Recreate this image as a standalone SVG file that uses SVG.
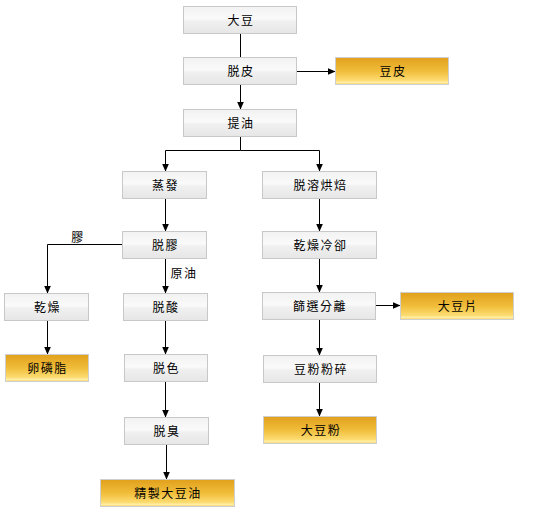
<svg xmlns="http://www.w3.org/2000/svg" width="539" height="523" viewBox="0 0 539 523">
<defs>
<linearGradient id="gGray" x1="0" y1="0" x2="0" y2="1">
<stop offset="0" stop-color="#f2f2f2"/>
<stop offset="0.45" stop-color="#fafafa"/>
<stop offset="0.55" stop-color="#f0f0f0"/>
<stop offset="1" stop-color="#e6e6e6"/>
</linearGradient>
<linearGradient id="gGold" x1="0" y1="0" x2="0" y2="1">
<stop offset="0" stop-color="#e1a01c"/>
<stop offset="0.5" stop-color="#f0bd3a"/>
<stop offset="0.85" stop-color="#fddc72"/>
<stop offset="0.92" stop-color="#fff0a8"/>
<stop offset="1" stop-color="#f6d060"/>
</linearGradient>
<marker id="arr" markerUnits="userSpaceOnUse" markerWidth="9" markerHeight="9" refX="8" refY="4" orient="auto">
<path d="M0,0.5 L8,4 L0,7.5 z" fill="#000"/>
</marker>
</defs>
<style>
.box{fill:url(#gGray);stroke:#c8c8c8;stroke-width:1}
.gold{fill:url(#gGold);stroke:#cfcfcf;stroke-width:1}
text{font-family:"Noto Sans CJK TC","Noto Sans CJK SC",sans-serif;font-size:12px;fill:#000;text-anchor:middle;letter-spacing:1.5px}
.c{fill:none;stroke:#000;stroke-width:1}
.a{marker-end:url(#arr)}
</style>
<g id="connectors">
<path class="c" d="M240.5 33.5 V57.5"/>
<path class="c a" d="M296.5 71.5 H335.5"/>
<path class="c a" d="M240.5 84.5 V109.5"/>
<path class="c a" d="M240.5 136.5 V150.5 H165.5 V171.5"/>
<path class="c a" d="M240.5 150.5 H319.5 V171.5"/>
<path class="c a" d="M165.5 198.5 V231.5"/>
<path class="c a" d="M122.5 244.5 H47.5 V293.5"/>
<path class="c a" d="M165.5 258.5 V293.5"/>
<path class="c a" d="M47.5 320.5 V354.5"/>
<path class="c a" d="M165.5 320.5 V354.5"/>
<path class="c a" d="M165.5 381.5 V417.5"/>
<path class="c a" d="M166.5 444.5 V479.5"/>
<path class="c a" d="M319.5 198.5 V231.5"/>
<path class="c a" d="M319.5 258.5 V292.5"/>
<path class="c a" d="M375.5 305.5 H400.5"/>
<path class="c a" d="M319.5 319.5 V355.5"/>
<path class="c a" d="M319.5 382.5 V416.5"/>
<text x="78" y="242">膠</text>
<text x="184" y="278">原油</text>
</g>
<g id="n1"><rect class="box" x="183.5" y="6.5" width="113" height="27"/><text x="241" y="24.5">大豆</text></g>
<g id="n2"><rect class="box" x="183.5" y="57.5" width="113" height="27"/><text x="241" y="75.5">脱皮</text></g>
<g id="n3"><rect class="gold" x="335.5" y="57.5" width="113" height="27"/><text x="393" y="75.5">豆皮</text></g>
<g id="n4"><rect class="box" x="183.5" y="109.5" width="113" height="27"/><text x="241" y="127.5">提油</text></g>
<g id="n5"><rect class="box" x="122.5" y="171.5" width="84" height="27"/><text x="165.5" y="189.5">蒸發</text></g>
<g id="n6"><rect class="box" x="122.5" y="231.5" width="84" height="27"/><text x="165.5" y="249.5">脱膠</text></g>
<g id="n7"><rect class="box" x="4.5" y="293.5" width="84" height="27"/><text x="47.5" y="311.5">乾燥</text></g>
<g id="n8"><rect class="gold" x="5.5" y="354.5" width="83" height="27"/><text x="47.5" y="372.5">卵磷脂</text></g>
<g id="n9"><rect class="box" x="123.5" y="293.5" width="84" height="27"/><text x="166" y="311.5">脱酸</text></g>
<g id="n10"><rect class="box" x="124.5" y="354.5" width="83" height="27"/><text x="166.5" y="372.5">脱色</text></g>
<g id="n11"><rect class="box" x="124.5" y="417.5" width="84" height="27"/><text x="167" y="435.5">脱臭</text></g>
<g id="n12"><rect class="gold" x="100.5" y="479.5" width="134" height="27"/><text x="168" y="497.5">精製大豆油</text></g>
<g id="n13"><rect class="box" x="262.5" y="171.5" width="114" height="27"/><text x="320.5" y="189.5">脱溶烘焙</text></g>
<g id="n14"><rect class="box" x="262.5" y="231.5" width="114" height="27"/><text x="320.5" y="249.5">乾燥冷卻</text></g>
<g id="n15"><rect class="box" x="262.5" y="292.5" width="113" height="27"/><text x="320" y="310.5">篩選分離</text></g>
<g id="n16"><rect class="gold" x="400.5" y="292.5" width="113" height="27"/><text x="458" y="310.5">大豆片</text></g>
<g id="n17"><rect class="box" x="263.5" y="355.5" width="113" height="27"/><text x="321" y="373.5">豆粉粉碎</text></g>
<g id="n18"><rect class="gold" x="263.5" y="416.5" width="113" height="27"/><text x="321" y="434.5">大豆粉</text></g>
</svg>
